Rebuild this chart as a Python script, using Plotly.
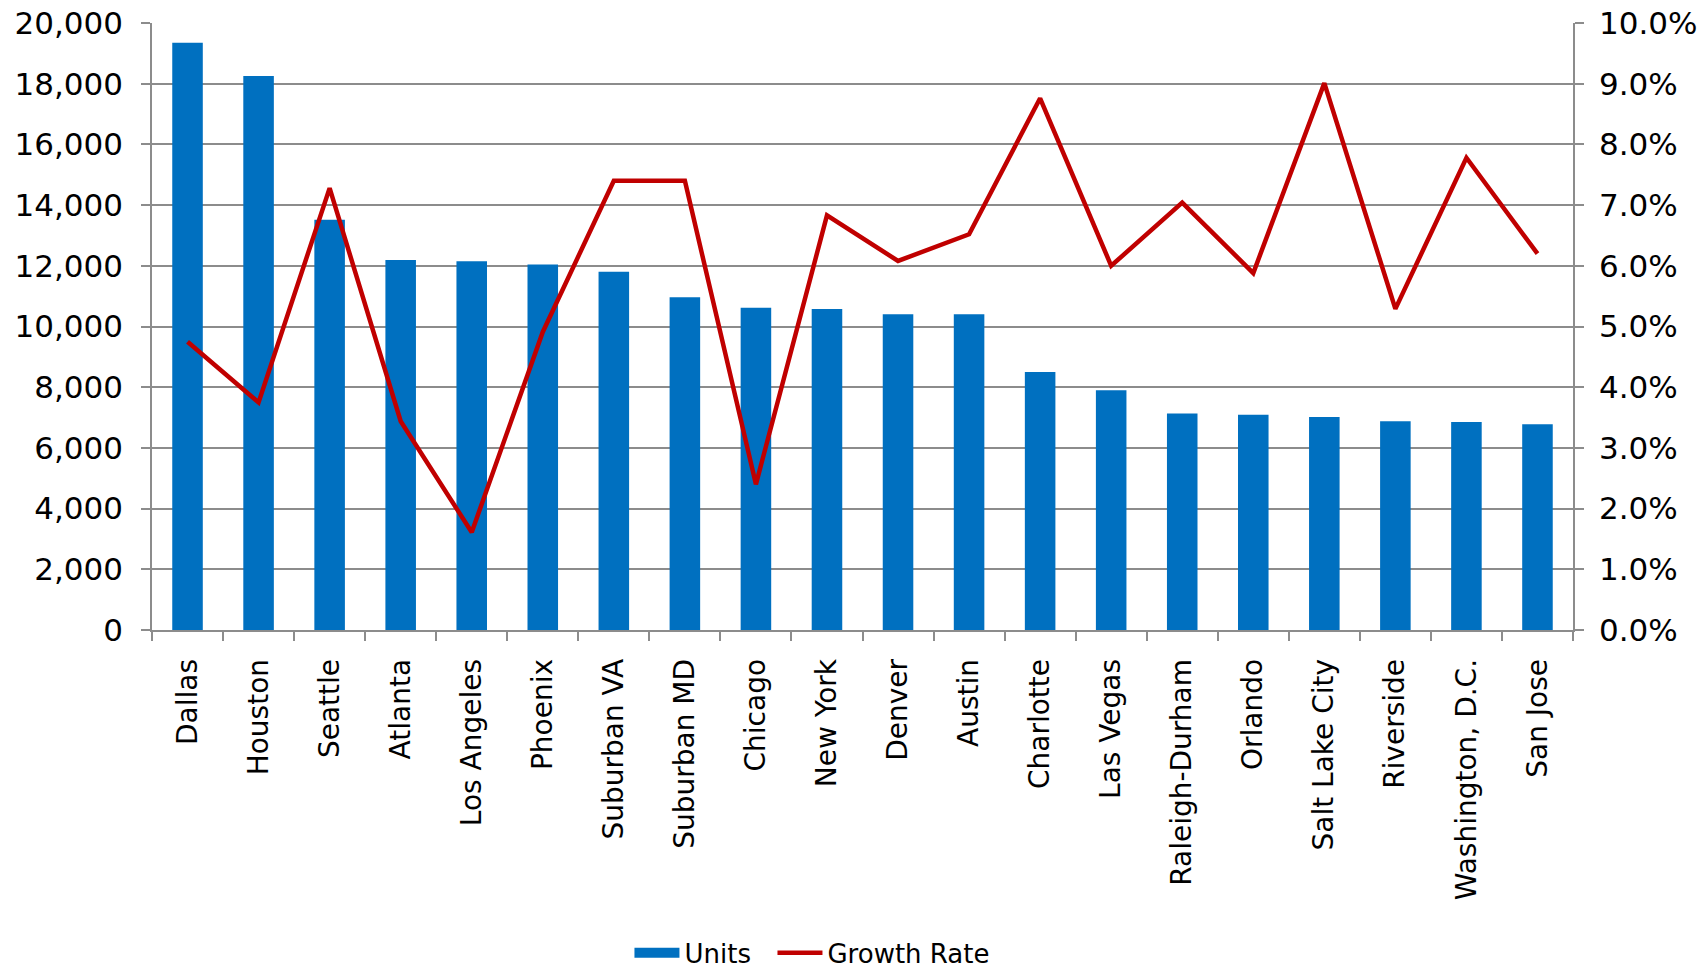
import plotly.graph_objects as go

cities = ["Dallas", "Houston", "Seattle", "Atlanta", "Los Angeles", "Phoenix",
          "Suburban VA", "Suburban MD", "Chicago", "New York", "Denver", "Austin",
          "Charlotte", "Las Vegas", "Raleigh-Durham", "Orlando", "Salt Lake City",
          "Riverside", "Washington, D.C.", "San Jose"]
units = [19350, 18250, 13520, 12190, 12150, 12040, 11800, 10960, 10620, 10580,
         10400, 10400, 8500, 7900, 7130, 7090, 7020, 6880, 6850, 6780]
growth = [0.0475, 0.0375, 0.0728, 0.0344, 0.0161, 0.0491, 0.0740, 0.0740, 0.0240, 0.0683,
          0.0608, 0.0652, 0.0876, 0.0600, 0.0704, 0.0588, 0.0901, 0.0529, 0.0778, 0.0620]

FONT = "DejaVu Sans"
GRID = "#8c8c8c"
BLUE = "#0070C0"
RED = "#C00000"

fig = go.Figure()
fig.add_trace(go.Bar(x=cities, y=units, name="Units", marker_color=BLUE,
                     marker_line_width=0, showlegend=False, legendgroup="u"))
# legend-only entry so the swatch is a wide block like the original
fig.add_trace(go.Scatter(x=[None], y=[None], name="Units\u00a0\u00a0", mode="lines",
                         line=dict(color=BLUE, width=14), legendgroup="u"))
fig.add_trace(go.Scatter(x=cities, y=growth, name="Growth Rate", mode="lines",
                         line=dict(color=RED, width=4.5), yaxis="y2"))

fig.update_layout(
    width=1708, height=971,
    margin=dict(l=152, r=135, t=23, b=341, autoexpand=False),
    paper_bgcolor="white", plot_bgcolor="white",
    font=dict(family=FONT, size=28, color="black"),
    bargap=0.57,
    showlegend=True,
    legend=dict(orientation="h", x=0.336, xanchor="left", y=-0.532, yanchor="middle",
                font=dict(size=26), itemwidth=45, traceorder="normal"),
    xaxis=dict(tickangle=-90, showline=True, linecolor=GRID, linewidth=1.5,
               ticks="outside", tickson="boundaries", ticklen=9, tickcolor=GRID,
               tickwidth=1.5, tickfont=dict(size=28), ticklabelstandoff=16,
               automargin=False),
    yaxis=dict(range=[0, 20000], dtick=2000, tickformat=",d", showgrid=True,
               gridcolor=GRID, gridwidth=1.5, showline=True, linecolor=GRID,
               linewidth=1.5, ticks="outside", ticklen=9, tickcolor=GRID, tickwidth=1.5,
               tickfont=dict(size=31), ticklabelstandoff=12, zeroline=False,
               automargin=False),
    yaxis2=dict(range=[0, 0.1], dtick=0.01, tickformat=".1%", overlaying="y", side="right",
                showgrid=False, showline=True, linecolor=GRID, linewidth=1.5,
                ticks="outside", ticklen=9, tickcolor=GRID, tickwidth=1.5,
                tickfont=dict(size=31), ticklabelstandoff=9, zeroline=False,
                automargin=False),
)

fig.write_html("out.html", config={"displayModeBar": False},
               post_script="document.body.style.margin='0';document.body.style.overflow='hidden';")
